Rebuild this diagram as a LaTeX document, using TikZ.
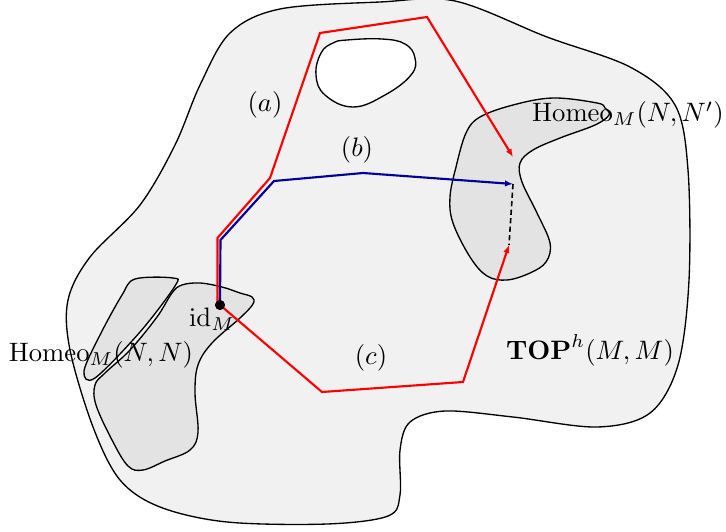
\documentclass[tikz,border=0pt]{standalone}
\usetikzlibrary{arrows.meta}
\definecolor{regionfill}{gray}{0.945}
\definecolor{blobfill}{gray}{0.89}
\definecolor{pathblue}{RGB}{0,0,150}
\tikzset{
  region/.style={draw=black, line width=0.5pt, fill=regionfill},
  blob/.style={draw=black, line width=0.5pt, fill=blobfill},
  hole/.style={draw=black, line width=0.5pt, fill=white},
  redpath/.style={draw=red, line width=0.8pt, line join=miter},
  bluepath/.style={draw=pathblue, line width=0.8pt},
  tip/.style={-{Latex[length=3pt,width=2.4pt]}},
  lbl/.style={inner sep=0pt, font=\normalsize}
}
\begin{document}
\begin{tikzpicture}[x=0.375pt,y=-0.375pt]
\useasboundingbox (0,0) rectangle (726,531);
% outer region
\path[region] plot[smooth cycle, tension=0.55] coordinates {
 (455,1) (547,37) (630,67) (675,105) (688,170) (689,280) (678,365) (650,413)
 (597,427) (513,417) (445,411) (410,422) (400,450) (400,495) (388,516)
 (327,524) (227,522) (160,507) (120,480) (93,427) (70,350) (68,300) (90,257)
 (140,205) (175,145) (200,85) (230,33) (280,9) (380,2)};
% hole
\path[hole] plot[smooth cycle, tension=0.7] coordinates {
 (347,40) (382,39) (405,44) (415,58) (411,75) (385,95) (353,107) (325,95)
 (316,75) (321,53) (333,43)};
% right blob
\path[blob] plot[smooth cycle, tension=0.6] coordinates {
 (480,117) (513,105) (553,98) (597,103) (605,108) (609,115) (595,125)
 (560,138) (533,150) (520,163) (522,182) (537,213) (550,243) (546,262)
 (530,273) (507,280) (487,276) (470,257) (453,223) (450,197) (456,167) (466,133)};
% left blobs
\path[blob] plot[smooth cycle, tension=0.55] coordinates {
 (135,279) (173,278) (175,286) (140,332) (95,378) (84,371) (100,335) (122,295)};
\path[blob] plot[smooth cycle, tension=0.6] coordinates {
 (182,285) (200,283) (222,287) (240,293) (252,297) (253,304) (240,318)
 (212,343) (198,365) (195,393) (198,432) (190,450) (165,461) (143,470)
 (128,466) (112,440) (96,405) (95,385) (105,373) (130,350) (157,317) (172,293)};
% waypoints
\node[circle, fill=black, inner sep=0pt, minimum size=3.7pt] (id) at (220,305) {};
\coordinate (r1) at (217.5,238);
\coordinate (r2) at (270,178);
\coordinate (r3) at (320,33);
\coordinate (r4) at (427,17);
\coordinate (aend) at (513,157);
\coordinate (b1) at (220.5,240);
\coordinate (b2) at (274,181);
\coordinate (b3) at (363,173);
\coordinate (bend) at (513,184);
\coordinate (c1) at (322,392);
\coordinate (c2) at (463,382);
\coordinate (cend) at (509,245);
% paths
\draw[bluepath, tip] (id.center) -- (b1) -- (b2) -- (b3) -- (bend);
\draw[redpath, tip] (id.center) ++(-2.5,0) -- (r1) -- (r2) -- (r3) -- (r4) -- (aend);
\draw[redpath, tip] (id.center) -- (c1) -- (c2) -- (cend);
\draw[black, line width=0.6pt, dashed, dash pattern=on 2pt off 1.2pt] (bend) -- (cend);
\node[circle, fill=black, inner sep=0pt, minimum size=3.7pt] at (id) {};
% labels
\node[lbl] (la) at (265,105) {$(a)$};
\node[lbl] (lb) at (357,150) {$(b)$};
\node[lbl] (lc) at (371,358) {$(c)$};
\node[lbl] (lid) at (212,319) {$\mathrm{id}_M$};
\node[lbl] (lhr) at (628,115) {$\mathrm{Homeo}_M(N,N')$};
\node[lbl] (lhl) at (101,355) {$\mathrm{Homeo}_M(N,N)$};
\node[lbl] (ltop) at (590,350) {$\mathbf{TOP}^h(M,M)$};
\end{tikzpicture}
\end{document}
